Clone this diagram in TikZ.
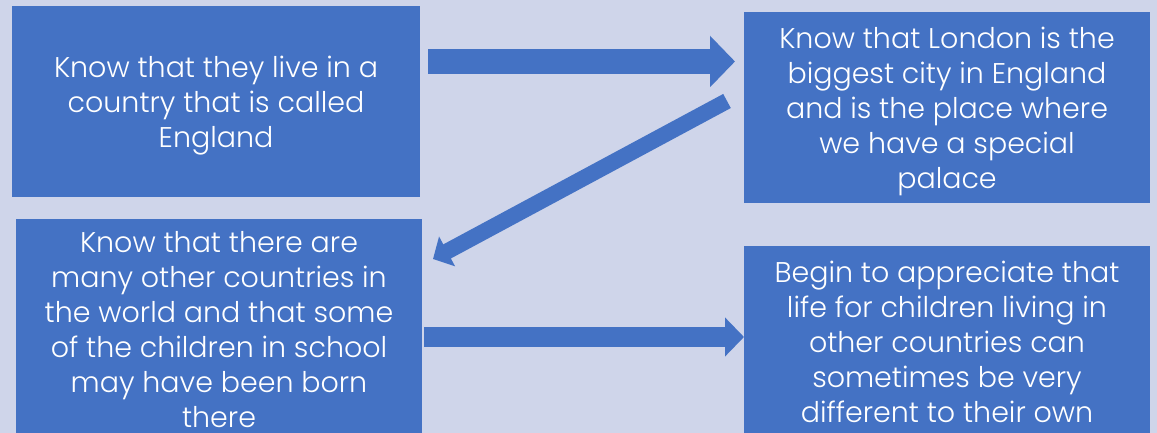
\documentclass[tikz,border=0pt]{standalone}
\usepackage{fontspec}
\setmainfont{Poppins}[UprightFont=* Light]
\usepackage{tikz}
\usepackage{xcolor}
\usetikzlibrary{arrows.meta}

\definecolor{boxblue}{HTML}{4472C4}
\definecolor{slide}{HTML}{CFD5EA}

% fixed line heights for the first and last line of a box
\newcommand{\toprule}{\rule{0pt}{33pt}}
\newcommand{\lowrule}{\rule[-11pt]{0pt}{11pt}}

\tikzset{
  goal/.style={fill=boxblue,text=white,align=center,inner sep=0pt,
    font=\fontsize{28.5}{35}\selectfont},
  link/.style={draw=boxblue}
}

\begin{document}
\begin{tikzpicture}[x=1pt,y=-1pt]
\useasboundingbox (0,0) rectangle (1157,433);
\fill[slide] (0,0) rectangle (1157,433);
\clip (0,0) rectangle (1157,433);

\node[goal,minimum width=408pt,minimum height=191pt] (england) at (216,101.5)
  {\toprule Know that they live in a\\country that is called\\England\lowrule};
\node[goal,minimum width=406pt,minimum height=191pt] (london) at (947,107.5)
  {\toprule Know that London is the\\biggest city in England\\and is the place where\\we have a special\\palace\lowrule};
\node[goal,minimum width=406pt,minimum height=219pt] (world) at (219,328.5)
  {\toprule Know that there are\\many other countries in\\the world and that some\\of the children in school\\may have been born\\there\lowrule};
\node[goal,minimum width=406pt,minimum height=190pt] (life) at (947,341)
  {\toprule Begin to appreciate that\\life for children living in\\other countries can\\sometimes be very\\different to their own\lowrule};

% block arrows
\coordinate (a1) at (428,61.5);
\coordinate (b1) at (735,61.5);
\coordinate (a2) at (727,101);
\coordinate (b2) at (433,259);
\coordinate (a3) at (424,337);
\coordinate (b3) at (744,337);
\draw[link,line width=25pt,-{Triangle[length=25pt,width=50pt]}] (a1) -- (b1);
\draw[link,line width=16pt,-{Triangle[length=16pt,width=33pt]}] (a2) -- (b2);
\draw[link,line width=20pt,-{Triangle[length=19pt,width=38pt]}] (a3) -- (b3);

\end{tikzpicture}
\end{document}
